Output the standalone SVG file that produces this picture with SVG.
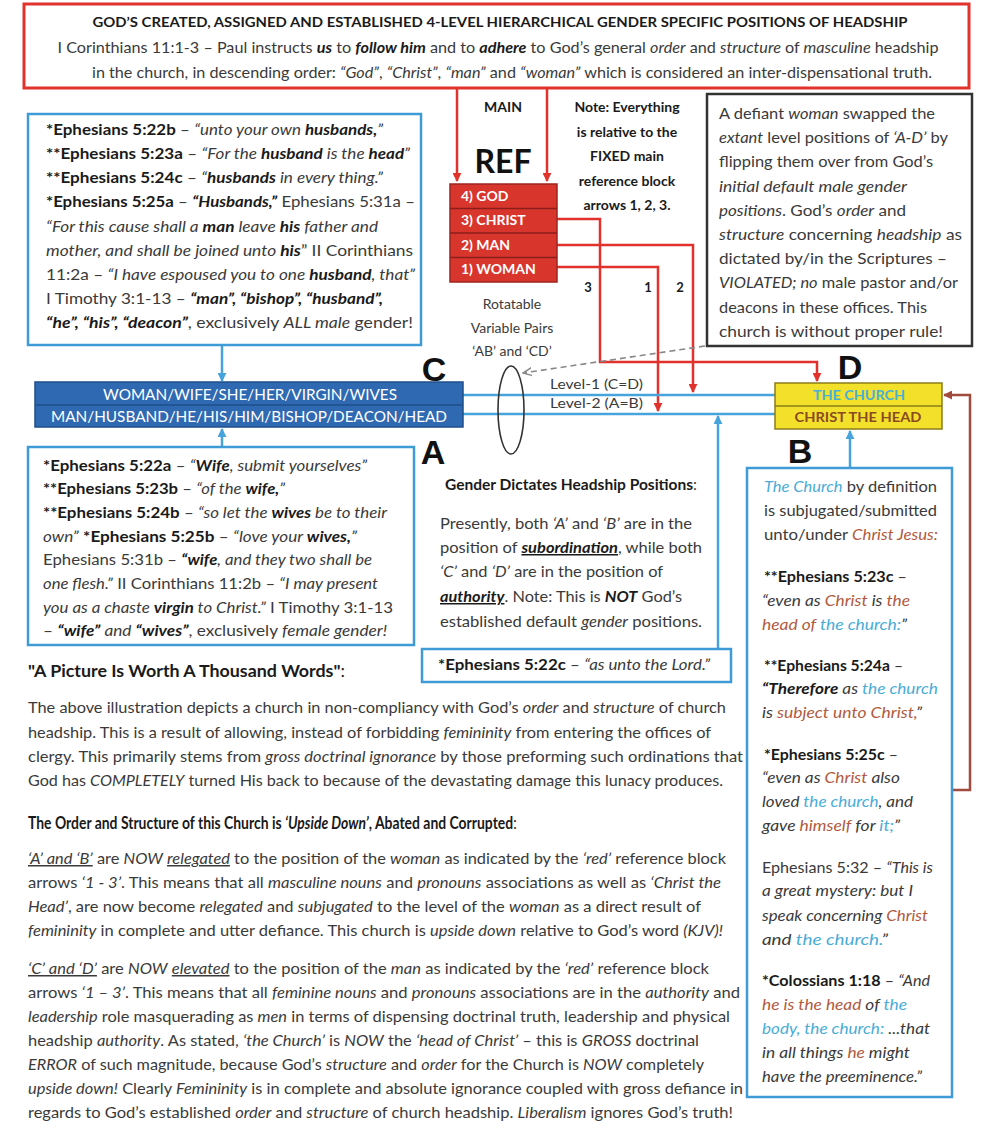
<svg xmlns="http://www.w3.org/2000/svg" width="982" height="1144" viewBox="0 0 982 1144">
<defs>
<style>
.t{font-family:Lato,"Open Sans","Liberation Sans",sans-serif;font-size:15px;fill:#3a3a3a}
.s14{font-size:14px}
.s13{font-size:13px}
.b{font-weight:bold;fill:#1a1a1a}
.i{font-style:italic}
.u{text-decoration:underline}
.bl{fill:#49acd9}
.br{fill:#b15a3e}
.w{fill:#ffffff}
.big{font-family:"Liberation Sans",Arial,sans-serif;font-weight:bold;font-size:34px;fill:#111}
.bbox{fill:#fff;stroke:#3e9bd6;stroke-width:2.5}
.red{fill:none;stroke:#e2322c;stroke-width:2.5}
.blu{fill:none;stroke:#47a3dc;stroke-width:2.5}
</style>
<marker id="mr" viewBox="0 0 10 10" refX="9" refY="5" markerWidth="9" markerHeight="9" markerUnits="userSpaceOnUse" orient="auto"><path d="M0,0 L10,5 L0,10 z" fill="#e2322c"/></marker>
<marker id="mb" viewBox="0 0 10 10" refX="9" refY="5" markerWidth="9" markerHeight="9" markerUnits="userSpaceOnUse" orient="auto"><path d="M0,0 L10,5 L0,10 z" fill="#47a3dc"/></marker>
<marker id="mn" viewBox="0 0 10 10" refX="9" refY="5" markerWidth="9" markerHeight="9" markerUnits="userSpaceOnUse" orient="auto"><path d="M0,0 L10,5 L0,10 z" fill="#a14a3e"/></marker>
<marker id="mg" viewBox="0 0 10 10" refX="9" refY="5" markerWidth="10" markerHeight="10" markerUnits="userSpaceOnUse" orient="auto"><path d="M0,1 L9,5 L0,9" fill="none" stroke="#888" stroke-width="1.5"/></marker>
</defs>
<rect width="982" height="1144" fill="#ffffff"/>

<g id="connectors">
<path class="red" d="M457,88 V181" marker-end="url(#mr)"/>
<path class="red" d="M547,88 V181" marker-end="url(#mr)"/>
<path class="red" d="M557,219 H600 V362 H817 V381" marker-end="url(#mr)"/>
<path class="red" d="M557,245 H693 V392" marker-end="url(#mr)"/>
<path class="red" d="M557,267 H658 V411" marker-end="url(#mr)"/>
<path class="blu" d="M463,395 H775"/>
<path class="blu" d="M463,414 H775"/>
<path class="blu" d="M222,345 V381" marker-end="url(#mb)"/>
<path class="blu" d="M222,447 V429" marker-end="url(#mb)"/>
<path class="blu" d="M718,649 V416" marker-end="url(#mb)"/>
<path class="blu" d="M850,468 V431" marker-end="url(#mb)"/>
<path d="M952,790 H970 V395 H944" fill="none" stroke="#a14a3e" stroke-width="2.5" marker-end="url(#mn)"/>
<path d="M705,346 L523,373" fill="none" stroke="#888" stroke-width="1.6" stroke-dasharray="6,4" marker-end="url(#mg)"/>
</g>

<g id="top-box">
<rect x="24" y="4" width="945" height="84" fill="#fff" stroke="#e2322c" stroke-width="3"/>
<text class="t b s14" x="500" y="27" text-anchor="middle" textLength="815" lengthAdjust="spacingAndGlyphs">GOD’S CREATED, ASSIGNED AND ESTABLISHED 4-LEVEL HIERARCHICAL GENDER SPECIFIC POSITIONS OF HEADSHIP</text>
<text class="t" x="498" y="53" text-anchor="middle" textLength="881" lengthAdjust="spacingAndGlyphs">I Corinthians 11:1-3 – Paul instructs <tspan class="b i">us</tspan> to <tspan class="b i">follow him</tspan> and to <tspan class="b i">adhere</tspan> to God’s general <tspan class="i">order</tspan> and <tspan class="i">structure</tspan> of <tspan class="i">masculine</tspan> headship</text>
<text class="t" x="512" y="78" text-anchor="middle" textLength="840" lengthAdjust="spacingAndGlyphs">in the church, in descending order: <tspan class="i">“God”</tspan>, <tspan class="i">“Christ”</tspan>, <tspan class="i">“man”</tspan> and <tspan class="i">“woman”</tspan> which is considered an inter-dispensational truth.</text>
</g>

<g id="ref-labels">
<text class="t b s14" x="503" y="112" text-anchor="middle">MAIN</text>
<text class="t b" x="503" y="173" text-anchor="middle" style="font-size:32px;fill:#111">REF</text>
<text class="t b s14" x="627" y="112" text-anchor="middle">Note: Everything</text>
<text class="t b s14" x="627" y="137" text-anchor="middle">is relative to the</text>
<text class="t b s14" x="627" y="161" text-anchor="middle">FIXED main</text>
<text class="t b s14" x="627" y="186" text-anchor="middle">reference block</text>
<text class="t b s14" x="627" y="210" text-anchor="middle">arrows 1, 2, 3.</text>
<text class="t b s13" x="588" y="292" text-anchor="middle">3</text>
<text class="t b s13" x="648" y="292" text-anchor="middle">1</text>
<text class="t b s13" x="680" y="292" text-anchor="middle">2</text>
</g>

<g id="ref-block">
<rect x="450" y="184" width="107" height="98" fill="#d8362d" stroke="#9c2520" stroke-width="1.5"/>
<path d="M450,208.5 H557 M450,233 H557 M450,257.5 H557" stroke="#8b1e1a" stroke-width="1.5"/>
<text class="t b w s14" x="461" y="201">4) GOD</text>
<text class="t b w s14" x="461" y="225">3) CHRIST</text>
<text class="t b w s14" x="461" y="250">2) MAN</text>
<text class="t b w s14" x="461" y="274">1) WOMAN</text>
</g>

<g id="rotatable">
<text class="t s14" x="512" y="309" text-anchor="middle">Rotatable</text>
<text class="t s14" x="512" y="333" text-anchor="middle">Variable Pairs</text>
<text class="t s14" x="512" y="356" text-anchor="middle">‘AB’ and ‘CD’</text>
<ellipse cx="511" cy="410" rx="13" ry="44" fill="none" stroke="#333" stroke-width="1.6"/>
<text class="t s14" x="550" y="389" textLength="93" lengthAdjust="spacingAndGlyphs">Level-1 (C=D)</text>
<text class="t s14" x="550" y="408" textLength="93" lengthAdjust="spacingAndGlyphs">Level-2 (A=B)</text>
</g>

<g id="male-box">
<rect class="bbox" x="28" y="114" width="393" height="231"/>
<text class="t" x="46" y="135" textLength="337" lengthAdjust="spacingAndGlyphs"><tspan class="b">*Ephesians 5:22b</tspan> – <tspan class="i">“unto your own </tspan><tspan class="b i">husbands,</tspan><tspan class="i">”</tspan></text>
<text class="t" x="46" y="159" textLength="364" lengthAdjust="spacingAndGlyphs"><tspan class="b">**Ephesians 5:23a</tspan> – <tspan class="i">“For the </tspan><tspan class="b i">husband</tspan><tspan class="i"> is the </tspan><tspan class="b i">head</tspan><tspan class="i">”</tspan></text>
<text class="t" x="46" y="183" textLength="337" lengthAdjust="spacingAndGlyphs"><tspan class="b">**Ephesians 5:24c</tspan> – <tspan class="i">“</tspan><tspan class="b i">husbands</tspan><tspan class="i"> in every thing.”</tspan></text>
<text class="t" x="46" y="207" textLength="369" lengthAdjust="spacingAndGlyphs"><tspan class="b">*Ephesians 5:25a</tspan> – <tspan class="b i">“Husbands,”</tspan> Ephesians 5:31a –</text>
<text class="t" x="46" y="232" textLength="332" lengthAdjust="spacingAndGlyphs"><tspan class="i">“For this cause shall a </tspan><tspan class="b i">man</tspan><tspan class="i"> leave </tspan><tspan class="b i">his</tspan><tspan class="i"> father and</tspan></text>
<text class="t" x="46" y="256" textLength="367" lengthAdjust="spacingAndGlyphs"><tspan class="i">mother, and shall be joined unto </tspan><tspan class="b i">his</tspan>” II Corinthians</text>
<text class="t" x="46" y="280" textLength="369" lengthAdjust="spacingAndGlyphs">11:2a – <tspan class="i">“I have espoused you to one </tspan><tspan class="b i">husband</tspan><tspan class="i">, that”</tspan></text>
<text class="t" x="46" y="304" textLength="337" lengthAdjust="spacingAndGlyphs">I Timothy 3:1-13 – <tspan class="b i">“man”, “bishop”, “husband”,</tspan></text>
<text class="t" x="46" y="328" textLength="367" lengthAdjust="spacingAndGlyphs"><tspan class="b i">“he”, “his”, “deacon”</tspan>, exclusively <tspan class="i">ALL male</tspan> gender!</text>
</g>

<g id="defiant-box">
<rect x="707" y="94" width="265" height="252" fill="#fff" stroke="#333" stroke-width="2.5"/>
<text class="t" x="719" y="119" textLength="216" lengthAdjust="spacingAndGlyphs">A defiant <tspan class="i">woman</tspan> swapped the</text>
<text class="t" x="719" y="143" textLength="229" lengthAdjust="spacingAndGlyphs"><tspan class="i">extant</tspan> level positions of <tspan class="i">‘A-D’</tspan> by</text>
<text class="t" x="719" y="167" textLength="214" lengthAdjust="spacingAndGlyphs">flipping them over from God’s</text>
<text class="t" x="719" y="192" textLength="188" lengthAdjust="spacingAndGlyphs"><tspan class="i">initial default male gender</tspan></text>
<text class="t" x="719" y="216" textLength="187" lengthAdjust="spacingAndGlyphs"><tspan class="i">positions</tspan>. God’s <tspan class="i">order</tspan> and</text>
<text class="t" x="719" y="240" textLength="243" lengthAdjust="spacingAndGlyphs"><tspan class="i">structure</tspan> concerning <tspan class="i">headship</tspan> as</text>
<text class="t" x="719" y="264" textLength="228" lengthAdjust="spacingAndGlyphs">dictated by/in the Scriptures –</text>
<text class="t" x="719" y="288" textLength="239" lengthAdjust="spacingAndGlyphs"><tspan class="i">VIOLATED; no</tspan> male pastor and/or</text>
<text class="t" x="719" y="313" textLength="208" lengthAdjust="spacingAndGlyphs">deacons in these offices. This</text>
<text class="t" x="719" y="337" textLength="224" lengthAdjust="spacingAndGlyphs">church is without proper rule!</text>
</g>

<g id="gender-bar">
<rect x="35" y="382" width="428" height="45" fill="#2f69b1" stroke="#1f4f8a" stroke-width="1.5"/>
<path d="M35,405 H463" stroke="#1f4f8a" stroke-width="1.5"/>
<text class="t w" x="250" y="400" text-anchor="middle" textLength="294" lengthAdjust="spacingAndGlyphs">WOMAN/WIFE/SHE/HER/VIRGIN/WIVES</text>
<text class="t w" x="249" y="422" text-anchor="middle" textLength="396" lengthAdjust="spacingAndGlyphs">MAN/HUSBAND/HE/HIS/HIM/BISHOP/DEACON/HEAD</text>
<text class="big" x="434" y="381" text-anchor="middle">C</text>
<text class="big" x="433" y="464" text-anchor="middle">A</text>
</g>

<g id="church-box">
<rect x="775" y="383" width="167" height="46" fill="#f3e02a" stroke="#8a7d1a" stroke-width="1.5"/>
<path d="M775,406 H942" stroke="#8a7d1a" stroke-width="1.5"/>
<text class="t b s14" x="859" y="400" text-anchor="middle" textLength="92" lengthAdjust="spacingAndGlyphs" style="fill:#48b0d8">THE CHURCH</text>
<text class="t b s14" x="858" y="422" text-anchor="middle" textLength="127" lengthAdjust="spacingAndGlyphs" style="fill:#8a4a22">CHRIST THE HEAD</text>
<text class="big" x="850" y="379" text-anchor="middle">D</text>
<text class="big" x="800" y="463" text-anchor="middle">B</text>
</g>

<g id="female-box">
<rect class="bbox" x="28" y="447" width="386" height="198"/>
<text class="t" x="43" y="471" textLength="324" lengthAdjust="spacingAndGlyphs"><tspan class="b">*Ephesians 5:22a</tspan> – <tspan class="i">“</tspan><tspan class="b i">Wife</tspan><tspan class="i">, submit yourselves”</tspan></text>
<text class="t" x="43" y="494" textLength="242" lengthAdjust="spacingAndGlyphs"><tspan class="b">**Ephesians 5:23b</tspan> – <tspan class="i">“of the </tspan><tspan class="b i">wife,</tspan><tspan class="i">”</tspan></text>
<text class="t" x="43" y="518" textLength="344" lengthAdjust="spacingAndGlyphs"><tspan class="b">**Ephesians 5:24b</tspan> – <tspan class="i">“so let the </tspan><tspan class="b i">wives</tspan><tspan class="i"> be to their</tspan></text>
<text class="t" x="43" y="542" textLength="314" lengthAdjust="spacingAndGlyphs"><tspan class="i">own”</tspan> <tspan class="b">*Ephesians 5:25b</tspan> – <tspan class="i">“love your </tspan><tspan class="b i">wives,</tspan><tspan class="i">”</tspan></text>
<text class="t" x="43" y="565" textLength="329" lengthAdjust="spacingAndGlyphs">Ephesians 5:31b – <tspan class="b i">“wife</tspan><tspan class="i">, and they two shall be</tspan></text>
<text class="t" x="43" y="589" textLength="335" lengthAdjust="spacingAndGlyphs"><tspan class="i">one flesh.”</tspan> II Corinthians 11:2b – <tspan class="i">“I may present</tspan></text>
<text class="t" x="43" y="613" textLength="350" lengthAdjust="spacingAndGlyphs"><tspan class="i">you as a chaste </tspan><tspan class="b i">virgin</tspan><tspan class="i"> to Christ.”</tspan>  I Timothy 3:1-13</text>
<text class="t" x="43" y="636" textLength="344" lengthAdjust="spacingAndGlyphs">– <tspan class="b i">“wife”</tspan><tspan class="i"> and </tspan><tspan class="b i">“wives”</tspan>, exclusively <tspan class="i">female gender!</tspan></text>
</g>

<g id="gender-dictates">
<text class="t" x="445" y="490" textLength="252" lengthAdjust="spacingAndGlyphs"><tspan class="b">Gender Dictates Headship Positions</tspan>:</text>
<text class="t" x="440" y="529" textLength="252" lengthAdjust="spacingAndGlyphs">Presently, both <tspan class="i">‘A’</tspan> and <tspan class="i">‘B’</tspan> are in the</text>
<text class="t" x="440" y="553" textLength="262" lengthAdjust="spacingAndGlyphs">position of <tspan class="b i u">subordination</tspan>, while both</text>
<text class="t" x="440" y="577" textLength="223" lengthAdjust="spacingAndGlyphs"><tspan class="i">‘C’</tspan> and <tspan class="i">‘D’</tspan> are in the position of</text>
<text class="t" x="440" y="602" textLength="242" lengthAdjust="spacingAndGlyphs"><tspan class="b i u">authority</tspan>. Note: This is <tspan class="b i">NOT</tspan> God’s</text>
<text class="t" x="440" y="627" textLength="262" lengthAdjust="spacingAndGlyphs">established default <tspan class="i">gender</tspan> positions.</text>
</g>

<g id="lord-box">
<rect class="bbox" x="422" y="649" width="309" height="33"/>
<text class="t" x="438" y="670" textLength="272" lengthAdjust="spacingAndGlyphs"><tspan class="b">*Ephesians 5:22c</tspan> – <tspan class="i">“as unto the Lord.”</tspan></text>
</g>

<g id="church-def-box">
<rect class="bbox" x="747" y="468" width="205" height="629"/>
<text class="t" x="764" y="492" textLength="173" lengthAdjust="spacingAndGlyphs"><tspan class="i bl">The Church</tspan> by definition</text>
<text class="t" x="764" y="516" textLength="173" lengthAdjust="spacingAndGlyphs">is subjugated/submitted</text>
<text class="t" x="764" y="540" textLength="174" lengthAdjust="spacingAndGlyphs">unto/under <tspan class="i br">Christ Jesus:</tspan></text>
<text class="t" x="764" y="582" textLength="143" lengthAdjust="spacingAndGlyphs"><tspan class="b">**Ephesians 5:23c</tspan> –</text>
<text class="t i" x="762" y="606" textLength="148" lengthAdjust="spacingAndGlyphs">“even as <tspan class="br">Christ</tspan> is <tspan class="br">the</tspan></text>
<text class="t i" x="762" y="630" textLength="145" lengthAdjust="spacingAndGlyphs"><tspan class="br">head of</tspan> <tspan class="bl">the church:</tspan>”</text>
<text class="t" x="764" y="671" textLength="139" lengthAdjust="spacingAndGlyphs"><tspan class="b">**Ephesians 5:24a</tspan> –</text>
<text class="t i" x="762" y="694" textLength="176" lengthAdjust="spacingAndGlyphs"><tspan class="b">“Therefore</tspan> as <tspan class="bl">the church</tspan></text>
<text class="t i" x="762" y="718" textLength="160" lengthAdjust="spacingAndGlyphs">is <tspan class="br">subject unto Christ,</tspan>”</text>
<text class="t" x="764" y="760" textLength="134" lengthAdjust="spacingAndGlyphs"><tspan class="b">*Ephesians 5:25c</tspan> –</text>
<text class="t i" x="762" y="783" textLength="138" lengthAdjust="spacingAndGlyphs">“even as <tspan class="br">Christ</tspan> also</text>
<text class="t i" x="762" y="807" textLength="151" lengthAdjust="spacingAndGlyphs">loved <tspan class="bl">the church</tspan>, and</text>
<text class="t i" x="762" y="831" textLength="138" lengthAdjust="spacingAndGlyphs">gave <tspan class="br">himself</tspan> for <tspan class="bl">it;</tspan>”</text>
<text class="t" x="762" y="873" textLength="171" lengthAdjust="spacingAndGlyphs">Ephesians 5:32 – <tspan class="i">“This is</tspan></text>
<text class="t i" x="762" y="896" textLength="151" lengthAdjust="spacingAndGlyphs">a great mystery: but I</text>
<text class="t i" x="762" y="921" textLength="166" lengthAdjust="spacingAndGlyphs">speak concerning <tspan class="br">Christ</tspan></text>
<text class="t i" x="762" y="945" textLength="126" lengthAdjust="spacingAndGlyphs">and <tspan class="bl">the church.</tspan>”</text>
<text class="t" x="762" y="986" textLength="168" lengthAdjust="spacingAndGlyphs"><tspan class="b">*Colossians 1:18</tspan> – <tspan class="i">“And</tspan></text>
<text class="t i" x="762" y="1010" textLength="145" lengthAdjust="spacingAndGlyphs"><tspan class="br">he is the head</tspan> of <tspan class="bl">the</tspan></text>
<text class="t i" x="762" y="1034" textLength="168" lengthAdjust="spacingAndGlyphs"><tspan class="bl">body, the church:</tspan> ...that</text>
<text class="t i" x="762" y="1058" textLength="148" lengthAdjust="spacingAndGlyphs">in all things <tspan class="br">he</tspan> might</text>
<text class="t i" x="762" y="1082" textLength="160" lengthAdjust="spacingAndGlyphs">have the preeminence.”</text>
</g>

<g id="bottom-text">
<text class="t b" x="0" y="0" transform="translate(28 677) scale(1.05 1)" style="font-size:17px">"A Picture Is Worth A Thousand Words"<tspan style="font-weight:normal">:</tspan></text>
<text class="t" x="28" y="713" textLength="698" lengthAdjust="spacingAndGlyphs">The above illustration depicts a church in non-compliancy with God’s <tspan class="i">order</tspan> and <tspan class="i">structure</tspan> of church</text>
<text class="t" x="28" y="738" textLength="683" lengthAdjust="spacingAndGlyphs">headship. This is a result of allowing, instead of forbidding <tspan class="i">femininity</tspan> from entering the offices of</text>
<text class="t" x="28" y="762" textLength="715" lengthAdjust="spacingAndGlyphs">clergy. This primarily stems from <tspan class="i">gross doctrinal ignorance</tspan> by those preforming such ordinations that</text>
<text class="t" x="28" y="786" textLength="695" lengthAdjust="spacingAndGlyphs">God has <tspan class="i">COMPLETELY</tspan> turned His back to because of the devastating damage this lunacy produces.</text>
<text class="t b" x="0" y="0" transform="translate(28 829) scale(0.82 1)" style="font-size:17px">The Order and Structure of this Church is <tspan class="i">‘Upside Down’</tspan>, Abated and Corrupted<tspan style="font-weight:normal">:</tspan></text>
<text class="t" x="28" y="864" textLength="698" lengthAdjust="spacingAndGlyphs"><tspan class="i u">‘A’ and ‘B’</tspan> are <tspan class="i">NOW</tspan> <tspan class="i u">relegated</tspan> to the position of the <tspan class="i">woman</tspan> as indicated by the <tspan class="i">‘red’</tspan> reference block</text>
<text class="t" x="28" y="888" textLength="693" lengthAdjust="spacingAndGlyphs">arrows <tspan class="i">‘1 - 3’</tspan>. This means that all <tspan class="i">masculine nouns</tspan> and <tspan class="i">pronouns</tspan> associations as well as <tspan class="i">‘Christ the</tspan></text>
<text class="t" x="28" y="912" textLength="673" lengthAdjust="spacingAndGlyphs"><tspan class="i">Head’</tspan>, are now become <tspan class="i">relegated</tspan> and <tspan class="i">subjugated</tspan> to the level of the <tspan class="i">woman</tspan> as a direct result of</text>
<text class="t" x="28" y="936" textLength="695" lengthAdjust="spacingAndGlyphs"><tspan class="i">femininity</tspan> in complete and utter defiance. This church is <tspan class="i">upside down</tspan> relative to God’s word <tspan class="i">(KJV)!</tspan></text>
<text class="t" x="28" y="974" textLength="681" lengthAdjust="spacingAndGlyphs"><tspan class="i u">‘C’ and ‘D’</tspan> are <tspan class="i">NOW</tspan> <tspan class="i u">elevated</tspan> to the position of the <tspan class="i">man</tspan> as indicated by the <tspan class="i">‘red’</tspan> reference block</text>
<text class="t" x="28" y="998" textLength="712" lengthAdjust="spacingAndGlyphs">arrows <tspan class="i">‘1 – 3’</tspan>. This means that all <tspan class="i">feminine nouns</tspan> and <tspan class="i">pronouns</tspan> associations are in the <tspan class="i">authority</tspan> and</text>
<text class="t" x="28" y="1022" textLength="702" lengthAdjust="spacingAndGlyphs"><tspan class="i">leadership</tspan> role masquerading as <tspan class="i">men</tspan> in terms of dispensing doctrinal truth, leadership and physical</text>
<text class="t" x="28" y="1046" textLength="671" lengthAdjust="spacingAndGlyphs">headship <tspan class="i">authority</tspan>. As stated, <tspan class="i">‘the Church’</tspan> is <tspan class="i">NOW</tspan> the <tspan class="i">‘head of Christ’</tspan> – this is <tspan class="i">GROSS</tspan> doctrinal</text>
<text class="t" x="28" y="1070" textLength="676" lengthAdjust="spacingAndGlyphs"><tspan class="i">ERROR</tspan> of such magnitude, because God’s <tspan class="i">structure</tspan> and <tspan class="i">order</tspan> for the Church is <tspan class="i">NOW</tspan> completely</text>
<text class="t" x="28" y="1094" textLength="715" lengthAdjust="spacingAndGlyphs"><tspan class="i">upside down!</tspan> Clearly <tspan class="i">Femininity</tspan> is in complete and absolute ignorance coupled with gross defiance in</text>
<text class="t" x="28" y="1118" textLength="705" lengthAdjust="spacingAndGlyphs">regards to God’s established <tspan class="i">order</tspan> and <tspan class="i">structure</tspan> of church headship. <tspan class="i">Liberalism</tspan> ignores God’s truth!</text>
</g>
</svg>
